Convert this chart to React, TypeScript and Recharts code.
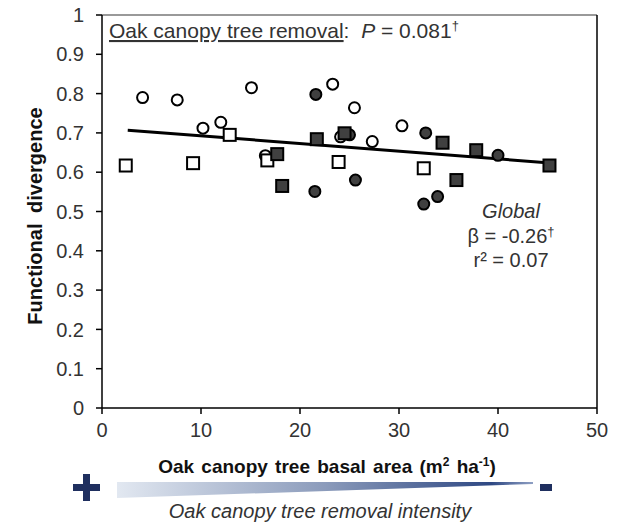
import {
  ScatterChart,
  Scatter,
  XAxis,
  YAxis,
  ReferenceLine,
} from "recharts";

const xTicks = [0, 10, 20, 30, 40, 50];
const yTicks = [0, 0.1, 0.2, 0.3, 0.4, 0.5, 0.6, 0.7, 0.8, 0.9, 1];

const openCircles = [
  { x: 4.1, y: 0.79 },
  { x: 7.6, y: 0.784 },
  { x: 10.2, y: 0.712 },
  { x: 12.0, y: 0.727 },
  { x: 15.1, y: 0.815 },
  { x: 16.5, y: 0.642 },
  { x: 23.3, y: 0.824 },
  { x: 24.1, y: 0.69 },
  { x: 25.5, y: 0.764 },
  { x: 27.3, y: 0.678 },
  { x: 30.3, y: 0.718 },
];

const filledCircles = [
  { x: 21.6, y: 0.798 },
  { x: 25.0, y: 0.695 },
  { x: 21.5, y: 0.551 },
  { x: 25.6, y: 0.58 },
  { x: 32.7, y: 0.7 },
  { x: 32.5, y: 0.519 },
  { x: 33.9, y: 0.538 },
  { x: 40.0, y: 0.643 },
];

const openSquares = [
  { x: 2.4, y: 0.617 },
  { x: 9.2, y: 0.623 },
  { x: 12.9, y: 0.695 },
  { x: 16.7, y: 0.63 },
  { x: 23.9, y: 0.626 },
  { x: 32.5, y: 0.61 },
];

const filledSquares = [
  { x: 17.7, y: 0.646 },
  { x: 18.2, y: 0.565 },
  { x: 21.7, y: 0.684 },
  { x: 24.5, y: 0.699 },
  { x: 34.4, y: 0.675 },
  { x: 35.8, y: 0.58 },
  { x: 37.8, y: 0.656 },
  { x: 45.2, y: 0.617 },
];

const trend = [
  { x: 2.6, y: 0.707 },
  { x: 45.6, y: 0.623 },
];

const font = '"Liberation Sans", Arial, sans-serif';
const navy = "#1f2f5f";
const dark = "#404040";

const circleShape = (fill: string) => (props: any) => (
  <circle cx={props.cx} cy={props.cy} r={5.5} fill={fill} stroke="#000" strokeWidth={2} />
);

const squareShape = (fill: string) => (props: any) => (
  <rect x={props.cx - 6} y={props.cy - 6} width={12} height={12} fill={fill} stroke="#000" strokeWidth={2} />
);

function Overlay() {
  return (
    <svg
      width={620}
      height={523}
      style={{ position: "absolute", left: 0, top: 0, pointerEvents: "none" }}
      fontFamily={font}
    >
      <defs>
        <linearGradient id="intensity" x1="0" x2="1" y1="0" y2="0">
          <stop offset="0%" stopColor="#e2e8f1" />
          <stop offset="50%" stopColor="#8b9bbb" />
          <stop offset="90%" stopColor="#2e4883" />
          <stop offset="100%" stopColor="#8fa0c4" />
        </linearGradient>
      </defs>
      <text x={109} y={38} fontSize={21} fill="#333" xmlSpace="preserve">
        <tspan textDecoration="underline">Oak canopy tree removal</tspan>
        <tspan>:  </tspan>
        <tspan fontStyle="italic">P</tspan>
        <tspan> = 0.081</tspan>
        <tspan fontSize={13} dy={-8}>†</tspan>
      </text>
      <text x={511} y={218} fontSize={20} fill="#333" textAnchor="middle" fontStyle="italic">
        Global
      </text>
      <text x={511} y={243} fontSize={20} fill="#333" textAnchor="middle">
        <tspan>β = -0.26</tspan>
        <tspan fontSize={13} dy={-7}>†</tspan>
      </text>
      <text x={511} y={267} fontSize={20} fill="#333" textAnchor="middle">
        r² = 0.07
      </text>
      <text
        x={0}
        y={0}
        fontSize={20}
        fontWeight="bold"
        fill="#111"
        textAnchor="middle"
        wordSpacing={5}
        transform="translate(42,216) rotate(-90)"
      >
        Functional divergence
      </text>
      <text x={327} y={473} fontSize={19} fontWeight="bold" fill="#111" textAnchor="middle" wordSpacing={2}>
        <tspan>Oak canopy tree basal area (m</tspan>
        <tspan fontSize={12} dy={-7}>2</tspan>
        <tspan dy={7}> ha</tspan>
        <tspan fontSize={12} dy={-7}>-1</tspan>
        <tspan dy={7}>)</tspan>
      </text>
      <rect x={73} y={484} width={27} height={7} fill={navy} />
      <rect x={83} y={474} width={7} height={27} fill={navy} />
      <polygon points="117,482 533,482 533,484 117,498" fill="url(#intensity)" />
      <rect x={540} y={484} width={12} height={7} fill={navy} />
      <text x={320} y={518} fontSize={20} fill="#333" textAnchor="middle" fontStyle="italic">
        Oak canopy tree removal intensity
      </text>
    </svg>
  );
}

export default function App() {
  return (
    <div style={{ position: "absolute", left: 0, top: 0, width: 620, height: 523, background: "#fff" }}>
      <ScatterChart
        width={620}
        height={523}
        margin={{ top: 15, right: 23, left: 42, bottom: 85 }}
        style={{ fontFamily: font }}
      >
        <XAxis
          type="number"
          dataKey="x"
          domain={[0, 50]}
          ticks={xTicks}
          height={30}
          tickSize={6}
          tickMargin={9}
          stroke="#000"
          strokeWidth={1.5}
          tick={{ fill: "#333", fontSize: 20 }}
        />
        <YAxis
          type="number"
          dataKey="y"
          domain={[0, 1]}
          ticks={yTicks}
          width={60}
          tickSize={6}
          tickMargin={12}
          stroke="#000"
          strokeWidth={1.5}
          tick={{ fill: "#333", fontSize: 20 }}
        />
        <ReferenceLine y={1} stroke="#777" strokeWidth={1.5} />
        <ReferenceLine x={50} stroke="#000" strokeWidth={1.5} />
        <Scatter
          data={trend}
          line={{ stroke: "#000", strokeWidth: 3 }}
          shape={() => <g />}
          isAnimationActive={false}
        />
        <Scatter data={openCircles} shape={circleShape("#fff")} isAnimationActive={false} />
        <Scatter data={filledCircles} shape={circleShape(dark)} isAnimationActive={false} />
        <Scatter data={openSquares} shape={squareShape("#fff")} isAnimationActive={false} />
        <Scatter data={filledSquares} shape={squareShape(dark)} isAnimationActive={false} />
      </ScatterChart>
      <Overlay />
    </div>
  );
}
